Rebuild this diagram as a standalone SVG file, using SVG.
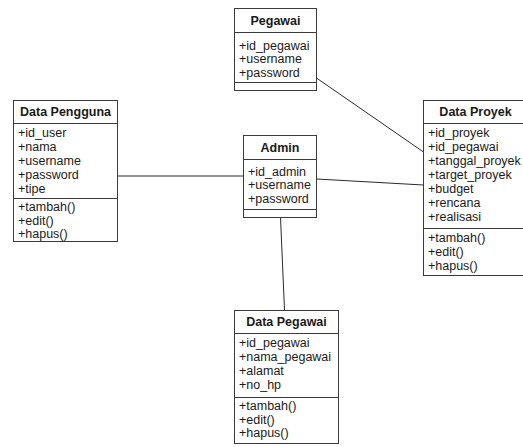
<svg xmlns="http://www.w3.org/2000/svg" width="523" height="447" viewBox="0 0 523 447">
  <style>
    .box { fill: #ffffff; stroke: #3a3a3a; stroke-width: 1; }
    .sep { stroke: #3a3a3a; stroke-width: 1; }
    .title { font-family: "Liberation Sans", Arial, sans-serif; font-size: 12.5px; font-weight: bold; fill: #1a1a1a; text-anchor: middle; }
    .item { font-family: "Liberation Sans", Arial, sans-serif; font-size: 12.5px; fill: #1a1a1a; }
    .link { stroke: #2a2a2a; stroke-width: 1; fill: none; }
  </style>
  <rect width="523" height="447" fill="#ffffff"/>

  <!-- associations -->
  <g id="connectors">
    <line class="link" x1="316.5" y1="78" x2="423.5" y2="152"/>
    <line class="link" x1="117.5" y1="176" x2="243.5" y2="176"/>
    <line class="link" x1="316.5" y1="179" x2="423.5" y2="185"/>
    <line class="link" x1="280.5" y1="217" x2="284.5" y2="310"/>
  </g>

  <!-- Pegawai -->
  <g id="pegawai">
    <rect class="box" x="234.5" y="8.5" width="82" height="82"/>
    <line class="sep" x1="234.5" y1="32.5" x2="316.5" y2="32.5"/>
    <line class="sep" x1="234.5" y1="82.5" x2="316.5" y2="82.5"/>
    <text class="title" x="275.5" y="25">Pegawai</text>
    <text class="item" x="239" y="49.5">+id_pegawai</text>
    <text class="item" x="239" y="63">+username</text>
    <text class="item" x="239" y="76.5">+password</text>
  </g>

  <!-- Data Pengguna -->
  <g id="data-pengguna">
    <rect class="box" x="13.5" y="100.5" width="104" height="141"/>
    <line class="sep" x1="13.5" y1="123.5" x2="117.5" y2="123.5"/>
    <line class="sep" x1="13.5" y1="198.5" x2="117.5" y2="198.5"/>
    <text class="title" x="65.5" y="116">Data Pengguna</text>
    <text class="item" x="18" y="137">+id_user</text>
    <text class="item" x="18" y="151">+nama</text>
    <text class="item" x="18" y="165">+username</text>
    <text class="item" x="18" y="179">+password</text>
    <text class="item" x="18" y="193">+tipe</text>
    <text class="item" x="18" y="211">+tambah()</text>
    <text class="item" x="18" y="224.5">+edit()</text>
    <text class="item" x="18" y="238">+hapus()</text>
  </g>

  <!-- Admin -->
  <g id="admin">
    <rect class="box" x="243.5" y="135.5" width="73" height="82"/>
    <line class="sep" x1="243.5" y1="159.5" x2="316.5" y2="159.5"/>
    <line class="sep" x1="243.5" y1="209.5" x2="316.5" y2="209.5"/>
    <text class="title" x="280" y="152">Admin</text>
    <text class="item" x="248" y="175.5">+id_admin</text>
    <text class="item" x="248" y="189">+username</text>
    <text class="item" x="248" y="202.5">+password</text>
  </g>

  <!-- Data Proyek (runs past the right edge) -->
  <g id="data-proyek">
    <rect class="box" x="423.5" y="100.5" width="110" height="175"/>
    <line class="sep" x1="423.5" y1="123.5" x2="533.5" y2="123.5"/>
    <line class="sep" x1="423.5" y1="228.5" x2="533.5" y2="228.5"/>
    <text class="title" x="475.5" y="116">Data Proyek</text>
    <text class="item" x="428" y="137">+id_proyek</text>
    <text class="item" x="428" y="151">+id_pegawai</text>
    <text class="item" x="428" y="165">+tanggal_proyek</text>
    <text class="item" x="428" y="179">+target_proyek</text>
    <text class="item" x="428" y="193">+budget</text>
    <text class="item" x="428" y="207">+rencana</text>
    <text class="item" x="428" y="221">+realisasi</text>
    <text class="item" x="428" y="242">+tambah()</text>
    <text class="item" x="428" y="256">+edit()</text>
    <text class="item" x="428" y="270">+hapus()</text>
  </g>

  <!-- Data Pegawai -->
  <g id="data-pegawai">
    <rect class="box" x="234.5" y="310.5" width="104" height="133"/>
    <line class="sep" x1="234.5" y1="333.5" x2="338.5" y2="333.5"/>
    <line class="sep" x1="234.5" y1="397.5" x2="338.5" y2="397.5"/>
    <text class="title" x="286.5" y="326">Data Pegawai</text>
    <text class="item" x="239" y="347">+id_pegawai</text>
    <text class="item" x="239" y="361">+nama_pegawai</text>
    <text class="item" x="239" y="375">+alamat</text>
    <text class="item" x="239" y="389">+no_hp</text>
    <text class="item" x="239" y="410">+tambah()</text>
    <text class="item" x="239" y="423.5">+edit()</text>
    <text class="item" x="239" y="437">+hapus()</text>
  </g>
</svg>
